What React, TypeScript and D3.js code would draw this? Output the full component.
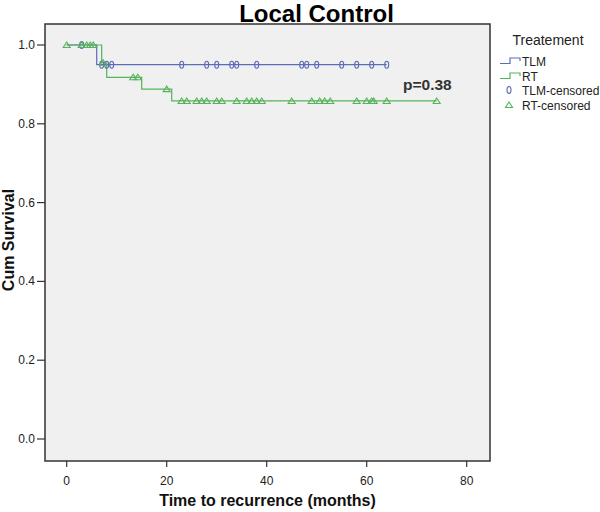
import React from "react";
import * as d3 from "d3";

const xTicks = [0, 20, 40, 60, 80];
const yTicks = [0, 0.2, 0.4, 0.6, 0.8, 1.0];

// Kaplan-Meier step points [time, survival]
const tlmTimes = [0, 6];
const tlmSurv = [1.0, 0.95];
const tlmEnd = 64;
const rtTimes = [0, 7, 8, 15, 21];
const rtSurv = [1.0, 0.955, 0.918, 0.888, 0.858];
const rtEnd = 74;

const tlmCensored = [3, 7, 8, 9, 23, 28, 30, 33, 34, 38, 47, 48, 50, 55, 58, 61, 64];
const rtCensored = [0, 3, 4, 4.7, 5.3, 7.3, 13.3, 14.2, 20, 23, 24, 26, 27, 28, 30, 31, 34, 36, 37, 38, 39, 45, 49, 50.6, 51.6, 52.7, 58, 60, 61, 61.4, 64, 74];

const TLM_COLOR = "#5b6cb8";
const RT_COLOR = "#55b35a";
const FONT = "Arial, 'Liberation Sans', sans-serif";

function survAt(times: number[], surv: number[], t: number) {
  let s = surv[0];
  for (let i = 0; i < times.length; i++) if (times[i] <= t) s = surv[i];
  return s;
}

export default function App() {
  const x = d3.scaleLinear().domain([0, 80]).range([66.7, 466.7]);
  const y = d3.scaleLinear().domain([0, 1]).range([439, 45]);
  const line = d3
    .line<[number, number]>()
    .x((d) => x(d[0]))
    .y((d) => y(d[1]))
    .curve(d3.curveStepAfter);

  const tlmPts: [number, number][] = tlmTimes.map((t, i) => [t, tlmSurv[i]] as [number, number]);
  tlmPts.push([tlmEnd, tlmSurv[tlmSurv.length - 1]]);
  const rtPts: [number, number][] = rtTimes.map((t, i) => [t, rtSurv[i]] as [number, number]);
  rtPts.push([rtEnd, rtSurv[rtSurv.length - 1]]);

  const tri = (cx: number, cy: number) =>
    `M${cx - 3.5},${cy + 2.5}L${cx + 3.5},${cy + 2.5}L${cx},${cy - 3}Z`;

  const left = 45, top = 24, right = 490, bottom = 461;

  return (
    <svg width={600} height={512} style={{ position: "absolute", left: 0, top: 0, background: "#fff" }}>
      <rect x={0} y={0} width={600} height={512} fill="#fff" />
      <text x={316.5} y={22} textAnchor="middle" fontFamily={FONT} fontWeight="bold" fontSize={24} fill="#000">
        Local Control
      </text>
      <rect x={left} y={top} width={right - left} height={bottom - top} fill="#f0f0f0" stroke="#333" strokeWidth={1.5} />
      {yTicks.map((t) => (
        <g key={"y" + t}>
          <line x1={37} x2={left} y1={y(t)} y2={y(t)} stroke="#333" strokeWidth={1.2} />
          <text x={35} y={y(t) + 4} textAnchor="end" fontFamily={FONT} fontSize={12} fill="#222">
            {t.toFixed(1)}
          </text>
        </g>
      ))}
      {xTicks.map((t) => (
        <g key={"x" + t}>
          <line x1={x(t)} x2={x(t)} y1={bottom} y2={bottom + 6} stroke="#333" strokeWidth={1.2} />
          <text x={x(t)} y={485} textAnchor="middle" fontFamily={FONT} fontSize={12} fill="#222">
            {t}
          </text>
        </g>
      ))}
      <text x={267.5} y={506} textAnchor="middle" fontFamily={FONT} fontWeight="bold" fontSize={16} fill="#111">
        Time to recurrence (months)
      </text>
      <text transform="translate(14,240) rotate(-90)" textAnchor="middle" fontFamily={FONT} fontWeight="bold" fontSize={16} fill="#111">
        Cum Survival
      </text>

      <path d={line(tlmPts) || ""} fill="none" stroke={TLM_COLOR} strokeWidth={1.2} />
      <path d={line(rtPts) || ""} fill="none" stroke={RT_COLOR} strokeWidth={1.2} />
      {tlmCensored.map((t, i) => (
        <ellipse key={"tc" + i} cx={x(t)} cy={y(survAt(tlmTimes, tlmSurv, t))} rx={2} ry={3.5} fill="none" stroke={TLM_COLOR} strokeWidth={1.1} />
      ))}
      {rtCensored.map((t, i) => (
        <path key={"rc" + i} d={tri(x(t), y(survAt(rtTimes, rtSurv, t)))} fill="none" stroke={RT_COLOR} strokeWidth={1.1} />
      ))}
      <text x={403} y={90} fontFamily={FONT} fontWeight="bold" fontSize={15.5} fill="#333">
        p=0.38
      </text>

      {/* Legend */}
      <text x={548} y={45} textAnchor="middle" fontFamily={FONT} fontSize={14} fill="#222">
        Treatement
      </text>
      <path d="M500,63.5H510V58H520V61" fill="none" stroke={TLM_COLOR} strokeWidth={1.2} />
      <text x={522} y={66} fontFamily={FONT} fontSize={12} fill="#222">TLM</text>
      <path d="M500,78.5H510V73H520V76" fill="none" stroke={RT_COLOR} strokeWidth={1.2} />
      <text x={522} y={81} fontFamily={FONT} fontSize={12} fill="#222">RT</text>
      <ellipse cx={509} cy={90} rx={2} ry={3.5} fill="none" stroke={TLM_COLOR} strokeWidth={1.1} />
      <text x={522} y={95} fontFamily={FONT} fontSize={12} fill="#222">TLM-censored</text>
      <path d={tri(509, 105)} fill="none" stroke={RT_COLOR} strokeWidth={1.1} />
      <text x={522} y={110} fontFamily={FONT} fontSize={12} fill="#222">RT-censored</text>
    </svg>
  );
}
